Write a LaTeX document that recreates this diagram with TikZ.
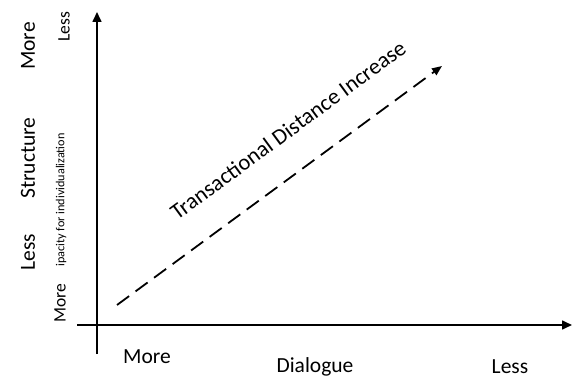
\documentclass[tikz,border=0pt]{standalone}
\usepackage{fontspec}
\setmainfont{Carlito}
\usetikzlibrary{arrows.meta}
\begin{document}
\begin{tikzpicture}[x=1pt,y=-1pt,
  axis/.style={line width=1.6pt,-{Triangle[length=10pt,width=9pt]}},
  trend/.style={line width=1.8pt,dash pattern=on 15pt off 8pt,-{Triangle[length=10pt,width=8pt]}},
  biglabel/.style={inner sep=0pt,font=\fontsize{21.5}{24}\selectfont},
  diaglabel/.style={inner sep=0pt,font=\fontsize{22.5}{25}\selectfont},
  smalllabel/.style={inner sep=0pt,font=\fontsize{17.5}{19}\selectfont},
  caplabel/.style={inner sep=0pt,font=\fontsize{12.2}{14}\selectfont}]
\useasboundingbox[fill=white] (0,0) rectangle (573,379);
% axes
\coordinate (vbot) at (97,354);
\coordinate (vtop) at (97,12);
\coordinate (hleft) at (77,325);
\coordinate (hright) at (572,325);
\draw[axis] (vbot) -- (vtop);
\draw[axis] (hleft) -- (hright);
% trend
\coordinate (tstart) at (117,305);
\coordinate (tend) at (442,66);
\draw[trend] (tstart) -- (tend);
\node[diaglabel,rotate=36.3] (tdi) at (288,130) {Transactional Distance Increase};
% left labels
\node[biglabel,rotate=90] (lmore) at (28,46) {More};
\node[biglabel,rotate=90] (lstruct) at (28,158) {Structure};
\node[biglabel,rotate=90] (lless) at (28,252) {Less};
\node[smalllabel,rotate=90] (sless) at (64,27) {Less};
\node[caplabel,rotate=90] (scap) at (61,200) {ipacity for individualization};
\node[smalllabel,rotate=90] (smore) at (60,303) {More};
% bottom labels
\node[biglabel] (bmore) at (147,357) {More};
\node[biglabel] (bdia) at (315,367) {Dialogue};
\node[biglabel] (bless) at (510,367) {Less};
\end{tikzpicture}
\end{document}
